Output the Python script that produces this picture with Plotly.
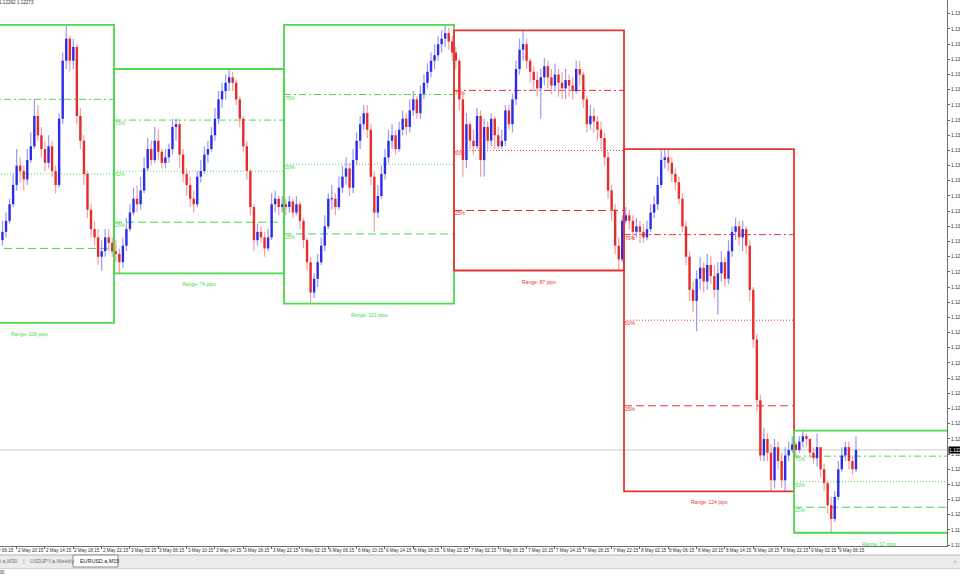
import plotly.graph_objects as go
from datetime import datetime, timedelta

# ---------------- data (EURUSD.a, 30-minute bars) ----------------
day_dates = ["2019-05-02", "2019-05-03", "2019-05-06", "2019-05-07", "2019-05-08", "2019-05-09"]
next_dates = ["2019-05-03", "2019-05-06", "2019-05-07", "2019-05-08", "2019-05-09", "2019-05-10"]
first_bar = ["08:00", "00:00", "00:00", "00:00", "00:00", "00:00"]
open_first = 1.1303

h_02 = [1.1310, 1.1313, 1.1318, 1.1327, 1.1336, 1.1333, 1.1330, 1.1336, 1.1342, 1.1354, 1.1352, 1.1344,
        1.1339, 1.1341, 1.1339, 1.1330, 1.1349, 1.1371, 1.1381, 1.1377, 1.1376, 1.1374, 1.1351, 1.1341,
        1.1328, 1.1316, 1.1310, 1.1307, 1.1303, 1.1307, 1.1307, 1.1304]
l_02 = [1.1301, 1.1304, 1.1309, 1.1315, 1.1321, 1.1324, 1.1321, 1.1323, 1.1331, 1.1336, 1.1339, 1.1333,
        1.1328, 1.1329, 1.1326, 1.1320, 1.1322, 1.1345, 1.1365, 1.1364, 1.1365, 1.1345, 1.1336, 1.1323,
        1.1311, 1.1304, 1.1301, 1.1294, 1.1292, 1.1297, 1.1299, 1.1297]
c_02 = [1.1306, 1.1310, 1.1316, 1.1323, 1.1330, 1.1328, 1.1325, 1.1332, 1.1337, 1.1348, 1.1341, 1.1336,
        1.1331, 1.1337, 1.1328, 1.1323, 1.1347, 1.1368, 1.1376, 1.1368, 1.1373, 1.1348, 1.1339, 1.1327,
        1.1314, 1.1307, 1.1304, 1.1297, 1.1299, 1.1304, 1.1302, 1.1299]

h_03 = [1.1303, 1.1300, 1.1304, 1.1311, 1.1316, 1.1322, 1.1323, 1.1326, 1.1333, 1.1340, 1.1339, 1.1344,
        1.1343, 1.1336, 1.1336, 1.1338, 1.1347, 1.1347, 1.1346, 1.1336, 1.1329, 1.1326, 1.1321, 1.1328,
        1.1332, 1.1337, 1.1339, 1.1344, 1.1351, 1.1357, 1.1360, 1.1363, 1.1365, 1.1364, 1.1361, 1.1355,
        1.1348, 1.1339, 1.1329, 1.1316, 1.1309, 1.1308, 1.1306, 1.1307, 1.1320, 1.1321, 1.1319, 1.1319]
l_03 = [1.1295, 1.1291, 1.1293, 1.1299, 1.1306, 1.1312, 1.1313, 1.1314, 1.1320, 1.1328, 1.1330, 1.1331,
        1.1332, 1.1329, 1.1329, 1.1331, 1.1334, 1.1339, 1.1329, 1.1324, 1.1319, 1.1315, 1.1313, 1.1315,
        1.1324, 1.1327, 1.1331, 1.1335, 1.1339, 1.1345, 1.1351, 1.1354, 1.1357, 1.1357, 1.1352, 1.1344,
        1.1335, 1.1325, 1.1312, 1.1299, 1.1301, 1.1302, 1.1297, 1.1299, 1.1303, 1.1313, 1.1312, 1.1313]
c_03 = [1.1298, 1.1295, 1.1301, 1.1307, 1.1313, 1.1318, 1.1316, 1.1321, 1.1329, 1.1336, 1.1332, 1.1339,
        1.1335, 1.1331, 1.1333, 1.1336, 1.1344, 1.1345, 1.1334, 1.1327, 1.1323, 1.1318, 1.1316, 1.1326,
        1.1328, 1.1334, 1.1336, 1.1341, 1.1347, 1.1354, 1.1357, 1.1360, 1.1362, 1.1360, 1.1354, 1.1347,
        1.1337, 1.1328, 1.1315, 1.1303, 1.1306, 1.1304, 1.1300, 1.1304, 1.1316, 1.1318, 1.1315, 1.1316]

h_06 = [1.1318, 1.1319, 1.1318, 1.1319, 1.1317, 1.1311, 1.1304, 1.1297, 1.1291, 1.1298, 1.1304, 1.1312,
        1.1320, 1.1323, 1.1320, 1.1326, 1.1330, 1.1333, 1.1331, 1.1336, 1.1342, 1.1348, 1.1352, 1.1352,
        1.1345, 1.1328, 1.1323, 1.1330, 1.1336, 1.1343, 1.1345, 1.1343, 1.1346, 1.1350, 1.1349, 1.1354,
        1.1357, 1.1355, 1.1359, 1.1363, 1.1367, 1.1371, 1.1374, 1.1377, 1.1379, 1.1381, 1.1380, 1.1377]
l_06 = [1.1312, 1.1313, 1.1311, 1.1312, 1.1307, 1.1300, 1.1292, 1.1280, 1.1282, 1.1286, 1.1294, 1.1299,
        1.1307, 1.1314, 1.1312, 1.1314, 1.1320, 1.1323, 1.1319, 1.1320, 1.1330, 1.1336, 1.1343, 1.1340,
        1.1323, 1.1306, 1.1311, 1.1318, 1.1325, 1.1331, 1.1336, 1.1334, 1.1335, 1.1341, 1.1341, 1.1342,
        1.1348, 1.1347, 1.1347, 1.1354, 1.1358, 1.1362, 1.1365, 1.1368, 1.1371, 1.1373, 1.1372, 1.1368]
c_06 = [1.1315, 1.1317, 1.1313, 1.1316, 1.1310, 1.1303, 1.1295, 1.1284, 1.1289, 1.1295, 1.1301, 1.1308,
        1.1318, 1.1318, 1.1315, 1.1322, 1.1326, 1.1329, 1.1322, 1.1332, 1.1339, 1.1345, 1.1349, 1.1343,
        1.1326, 1.1313, 1.1319, 1.1327, 1.1333, 1.1339, 1.1341, 1.1336, 1.1343, 1.1347, 1.1344, 1.1350,
        1.1354, 1.1349, 1.1356, 1.1360, 1.1364, 1.1368, 1.1370, 1.1374, 1.1376, 1.1378, 1.1375, 1.1371]

h_07 = [1.1373, 1.1369, 1.1356, 1.1349, 1.1346, 1.1343, 1.1351, 1.1350, 1.1347, 1.1346, 1.1349, 1.1348,
        1.1344, 1.1343, 1.1352, 1.1352, 1.1356, 1.1368, 1.1376, 1.1379, 1.1376, 1.1369, 1.1366, 1.1364,
        1.1365, 1.1369, 1.1368, 1.1365, 1.1367, 1.1365, 1.1364, 1.1365, 1.1363, 1.1362, 1.1368, 1.1368,
        1.1364, 1.1355, 1.1352, 1.1351, 1.1348, 1.1346, 1.1342, 1.1335, 1.1323, 1.1316, 1.1304, 1.1312]
l_07 = [1.1365, 1.1350, 1.1326, 1.1329, 1.1336, 1.1334, 1.1336, 1.1326, 1.1326, 1.1336, 1.1337, 1.1336,
        1.1336, 1.1336, 1.1337, 1.1343, 1.1342, 1.1352, 1.1363, 1.1368, 1.1365, 1.1360, 1.1357, 1.1355,
        1.1347, 1.1359, 1.1358, 1.1356, 1.1357, 1.1355, 1.1354, 1.1354, 1.1355, 1.1354, 1.1356, 1.1359,
        1.1351, 1.1342, 1.1343, 1.1342, 1.1339, 1.1336, 1.1330, 1.1318, 1.1310, 1.1298, 1.1292, 1.1295]
c_07 = [1.1368, 1.1354, 1.1332, 1.1345, 1.1339, 1.1337, 1.1348, 1.1332, 1.1344, 1.1339, 1.1347, 1.1341,
        1.1337, 1.1339, 1.1350, 1.1345, 1.1354, 1.1365, 1.1372, 1.1374, 1.1368, 1.1364, 1.1361, 1.1358,
        1.1362, 1.1366, 1.1362, 1.1359, 1.1363, 1.1360, 1.1358, 1.1361, 1.1359, 1.1357, 1.1365, 1.1363,
        1.1354, 1.1345, 1.1348, 1.1346, 1.1343, 1.1340, 1.1333, 1.1321, 1.1314, 1.1301, 1.1296, 1.1310]

h_08 = [1.1315, 1.1314, 1.1312, 1.1311, 1.1310, 1.1309, 1.1310, 1.1316, 1.1319, 1.1326, 1.1336, 1.1336,
        1.1336, 1.1333, 1.1329, 1.1326, 1.1320, 1.1310, 1.1299, 1.1288, 1.1292, 1.1297, 1.1295, 1.1298,
        1.1297, 1.1294, 1.1295, 1.1299, 1.1297, 1.1303, 1.1308, 1.1311, 1.1310, 1.1310, 1.1308, 1.1303,
        1.1286, 1.1269, 1.1247, 1.1235, 1.1233, 1.1229, 1.1231, 1.1230, 1.1226, 1.1228, 1.1230, 1.1232]
l_08 = [1.1309, 1.1307, 1.1303, 1.1304, 1.1302, 1.1302, 1.1303, 1.1306, 1.1311, 1.1314, 1.1322, 1.1329,
        1.1328, 1.1324, 1.1321, 1.1316, 1.1306, 1.1294, 1.1281, 1.1277, 1.1270, 1.1285, 1.1284, 1.1285,
        1.1287, 1.1282, 1.1276, 1.1288, 1.1286, 1.1287, 1.1297, 1.1303, 1.1301, 1.1299, 1.1298, 1.1281,
        1.1264, 1.1241, 1.1223, 1.1223, 1.1223, 1.1212, 1.1213, 1.1220, 1.1213, 1.1212, 1.1223, 1.1226]
c_08 = [1.1312, 1.1310, 1.1306, 1.1308, 1.1306, 1.1304, 1.1307, 1.1313, 1.1316, 1.1323, 1.1332, 1.1333,
        1.1331, 1.1327, 1.1324, 1.1318, 1.1308, 1.1297, 1.1285, 1.1281, 1.1289, 1.1293, 1.1288, 1.1294,
        1.1290, 1.1285, 1.1291, 1.1295, 1.1289, 1.1299, 1.1306, 1.1308, 1.1304, 1.1307, 1.1301, 1.1285,
        1.1267, 1.1245, 1.1225, 1.1231, 1.1226, 1.1216, 1.1228, 1.1223, 1.1216, 1.1225, 1.1227, 1.1229]

h_09 = [1.1230, 1.1232, 1.1234, 1.1233, 1.1231, 1.1228, 1.1233, 1.1228, 1.1222, 1.1216, 1.1210, 1.1212,
        1.1223, 1.1228, 1.1230, 1.1230, 1.1225, 1.1232]
l_09 = [1.1224, 1.1226, 1.1228, 1.1228, 1.1224, 1.1222, 1.1221, 1.1217, 1.1212, 1.1204, 1.1197, 1.1201,
        1.1209, 1.1219, 1.1223, 1.1220, 1.1218, 1.1219]
c_09 = [1.1227, 1.1230, 1.1232, 1.1231, 1.1226, 1.1224, 1.1228, 1.1220, 1.1215, 1.1207, 1.1202, 1.1210,
        1.1220, 1.1225, 1.1228, 1.1223, 1.1220, 1.1227]

# daily range boxes (high / low of each day as drawn)
day_high = [1.1381, 1.1365, 1.1381, 1.1379, 1.1336, 1.1234]
day_low = [1.1273, 1.1291, 1.1280, 1.1292, 1.1212, 1.1197]
day_bull = [True, True, True, False, False, True]
fib_levels = [0.75, 0.50, 0.25]
fib_labels = ["75%", "50%", "25%"]

bid_price = 1.12270
header_text = "EURUSD.a,M15  1.12262 1.12273"

price_ticks = [1.13905, 1.13850, 1.13795, 1.13740, 1.13685, 1.13630, 1.13575, 1.13520, 1.13465,
               1.13410, 1.13355, 1.13300, 1.13245, 1.13190, 1.13135, 1.13080, 1.13025, 1.12970,
               1.12915, 1.12860, 1.12805, 1.12750, 1.12695, 1.12640, 1.12585, 1.12530, 1.12475,
               1.12420, 1.12365, 1.12310, 1.12255, 1.12200, 1.12145, 1.12090, 1.12035, 1.11980,
               1.11925]
time_ticks = ["2019-05-02 10:15", "2019-05-02 14:15", "2019-05-02 18:15", "2019-05-02 22:15",
              "2019-05-03 02:15", "2019-05-03 06:15", "2019-05-03 10:15", "2019-05-03 14:15",
              "2019-05-03 18:15", "2019-05-03 22:15",
              "2019-05-06 02:15", "2019-05-06 06:15", "2019-05-06 10:15", "2019-05-06 14:15",
              "2019-05-06 18:15", "2019-05-06 22:15",
              "2019-05-07 02:15", "2019-05-07 06:15", "2019-05-07 10:15", "2019-05-07 14:15",
              "2019-05-07 18:15", "2019-05-07 22:15",
              "2019-05-08 02:15", "2019-05-08 06:15", "2019-05-08 10:15", "2019-05-08 14:15",
              "2019-05-08 18:15", "2019-05-08 22:15",
              "2019-05-09 02:15", "2019-05-09 06:15"]
cut_first_tick = "2 May 06:15"
tab_names = ["D.a,M30", "USDJPY.a,Weekly", "EURUSD.a,M15"]

# ---------------- styling ----------------
GREEN = "#4cd94c"
RED = "#e83434"
BULL_BODY, BULL_WICK = "#2b2be8", "#9a9af2"
BEAR_BODY, BEAR_WICK = "#e62b2b", "#f2a0a0"
FONT = "Liberation Sans"
W, H = 960, 577
PL, PR, PT, PB = 0, 947, 0, 546        # plot area in pixels
X_RANGE = ["2019-05-02 07:54", "2019-05-09 21:36"]
Y_RANGE = [1.11922, 1.13900]


def px_x(px):
    return (px - PL) / (PR - PL)


def px_y(py):
    return (PB - py) / (PB - PT)


# ---------------- build bars ----------------
daily = [(h_02, l_02, c_02), (h_03, l_03, c_03), (h_06, l_06, c_06),
         (h_07, l_07, c_07), (h_08, l_08, c_08), (h_09, l_09, c_09)]
T, HI, LO, CL = [], [], [], []
for d, (hh, ll, cc) in enumerate(daily):
    t0 = datetime.fromisoformat(day_dates[d] + " " + first_bar[d])
    for i in range(len(cc)):
        T.append(t0 + timedelta(minutes=30 * i + 15))
        HI.append(hh[i])
        LO.append(ll[i])
        CL.append(cc[i])
OP = [open_first] + CL[:-1]

wick = {True: ([], []), False: ([], [])}
body = {True: ([], []), False: ([], [])}
for t, o, h, l, c in zip(T, OP, HI, LO, CL):
    bull = c >= o
    wx, wy = wick[bull]
    wx += [t, t, None]
    wy += [min(l, o, c), max(h, o, c), None]
    bx, by = body[bull]
    lo_b, hi_b = min(o, c), max(o, c)
    if hi_b - lo_b < 0.00004:
        lo_b, hi_b = (o + c) / 2 - 0.00002, (o + c) / 2 + 0.00002
    bx += [t, t, None]
    by += [lo_b, hi_b, None]

fig = go.Figure()
for bull in (True, False):
    fig.add_trace(go.Scatter(x=wick[bull][0], y=wick[bull][1], mode="lines",
                             line=dict(color=BULL_WICK if bull else BEAR_WICK, width=1.2),
                             hoverinfo="skip", showlegend=False))
for bull in (True, False):
    fig.add_trace(go.Scatter(x=body[bull][0], y=body[bull][1], mode="lines",
                             line=dict(color=BULL_BODY if bull else BEAR_BODY, width=2.4),
                             hoverinfo="skip", showlegend=False))

shapes, annotations = [], []

# bid line
shapes.append(dict(type="line", xref="paper", x0=0, x1=1, yref="y", y0=bid_price, y1=bid_price,
                   line=dict(color="#c8c8c8", width=1), layer="below"))

# daily boxes with 25/50/75 levels
dash_styles = ["7px,3px,2px,3px", "1px,2px", "8px,4px"]
for d in range(len(day_dates)):
    col = GREEN if day_bull[d] else RED
    x0 = day_dates[d] + " 00:00"
    x1 = next_dates[d] + " 00:00"
    hi, lo = day_high[d], day_low[d]
    shapes.append(dict(type="rect", xref="x", yref="y", x0=x0, x1=x1, y0=lo, y1=hi,
                       line=dict(color=col, width=1.8), fillcolor="rgba(0,0,0,0)", layer="above"))
    for k, lev in enumerate(fib_levels):
        yv = lo + lev * (hi - lo)
        shapes.append(dict(type="line", xref="x", yref="y", x0=x0, x1=x1, y0=yv, y1=yv,
                           line=dict(color=col, width=1, dash=dash_styles[k]), layer="below"))
        annotations.append(dict(xref="x", yref="y", x=x0, y=yv, text=fib_labels[k], showarrow=False,
                                xanchor="left", yanchor="middle", xshift=-1, yshift=-3,
                                font=dict(family=FONT, size=5, color=col)))
    pips = round((hi - lo) * 10000)
    annotations.append(dict(xref="x", yref="y", x=day_dates[d] + " 12:00", y=lo,
                            text=f"Range: {pips} pips", showarrow=False,
                            xanchor="center", yanchor="middle", yshift=-11,
                            font=dict(family=FONT, size=5, color=col)))

# time labels (left aligned at tick, MT4 style)
for ts in time_ticks:
    t = datetime.fromisoformat(ts)
    annotations.append(dict(xref="x", yref="paper", x=ts, y=px_y(550.5),
                            text=f"{t.day} May {t:%H:%M}", showarrow=False,
                            xanchor="left", yanchor="middle", xshift=-1,
                            font=dict(family=FONT, size=4.6, color="#303030")))
annotations.append(dict(xref="paper", yref="paper", x=px_x(-14), y=px_y(550.5), text=cut_first_tick,
                        showarrow=False, xanchor="left", yanchor="middle",
                        font=dict(family=FONT, size=4.6, color="#303030")))

# current price tag on the price scale
annotations.append(dict(xref="paper", yref="y", x=1, y=bid_price, text="1.12270", showarrow=False,
                        xanchor="left", yanchor="middle", xshift=1, bgcolor="#000000",
                        borderpad=0, font=dict(family=FONT, size=5, color="#ffffff")))

# header (left part cut off by the window edge)
annotations.append(dict(xref="paper", yref="paper", x=px_x(36), y=px_y(3), text=header_text,
                        showarrow=False, xanchor="right", yanchor="middle",
                        font=dict(family=FONT, size=4.6, color="#303030")))

# tab bar below the chart
shapes.append(dict(type="rect", xref="paper", yref="paper", x0=px_x(-2), x1=px_x(962),
                   y0=px_y(568), y1=px_y(555), fillcolor="#ececec", line=dict(width=0), layer="above"))
shapes.append(dict(type="line", xref="paper", yref="paper", x0=px_x(-2), x1=px_x(962),
                   y0=px_y(555), y1=px_y(555), line=dict(color="#b4b4b4", width=1)))
shapes.append(dict(type="line", xref="paper", yref="paper", x0=px_x(-2), x1=px_x(962),
                   y0=px_y(568.5), y1=px_y(568.5), line=dict(color="#d0d0d0", width=1)))
shapes.append(dict(type="rect", xref="paper", yref="paper", x0=px_x(73), x1=px_x(118),
                   y0=px_y(567), y1=px_y(555), fillcolor="#ffffff",
                   line=dict(color="#8a8a8a", width=1), layer="above"))
tab_pos = [(19, "right"), (28, "left"), (78, "left")]
for name, (xp, anc) in zip(tab_names, tab_pos):
    annotations.append(dict(xref="paper", yref="paper", x=px_x(xp), y=px_y(561), text=name,
                            showarrow=False, xanchor=anc, yanchor="middle",
                            font=dict(family=FONT, size=5.4,
                                      color="#202020" if name == tab_names[-1] else "#707070")))
annotations.append(dict(xref="paper", yref="paper", x=px_x(23.5), y=px_y(561), text="|", showarrow=False,
                        xanchor="center", yanchor="middle", font=dict(family=FONT, size=5.4, color="#909090")))
annotations.append(dict(xref="paper", yref="paper", x=px_x(955), y=px_y(561), text="‹", showarrow=False,
                        xanchor="center", yanchor="middle", font=dict(family=FONT, size=6, color="#606060")))
annotations.append(dict(xref="paper", yref="paper", x=px_x(7), y=px_y(572.5), text=".00", showarrow=False,
                        xanchor="right", yanchor="middle", font=dict(family=FONT, size=4.6, color="#303030")))

fig.update_layout(
    width=W, height=H,
    margin=dict(l=PL, r=W - PR, t=PT, b=H - PB, pad=0, autoexpand=False),
    paper_bgcolor="#ffffff", plot_bgcolor="#ffffff",
    showlegend=False, shapes=shapes, annotations=annotations,
    font=dict(family=FONT, size=5, color="#303030"),
    xaxis=dict(type="date", range=X_RANGE, rangebreaks=[dict(bounds=["sat", "mon"])],
               tickvals=time_ticks, showticklabels=False, ticks="outside", ticklen=2,
               tickcolor="#606060", showgrid=False, zeroline=False, showline=True,
               linecolor="#707070", linewidth=1, automargin=False, fixedrange=True),
    yaxis=dict(side="right", range=Y_RANGE, tickvals=price_ticks,
               ticktext=[f"{v:.5f}" for v in price_ticks], tickfont=dict(family=FONT, size=4.8, color="#303030"),
               ticks="outside", ticklen=2, tickcolor="#606060", showgrid=False, zeroline=False,
               showline=True, linecolor="#707070", linewidth=1, automargin=False, fixedrange=True),
)

fig.write_html("out.html", config={"displayModeBar": False},
               post_script="document.body.style.margin='0';document.body.style.overflow='hidden';")
